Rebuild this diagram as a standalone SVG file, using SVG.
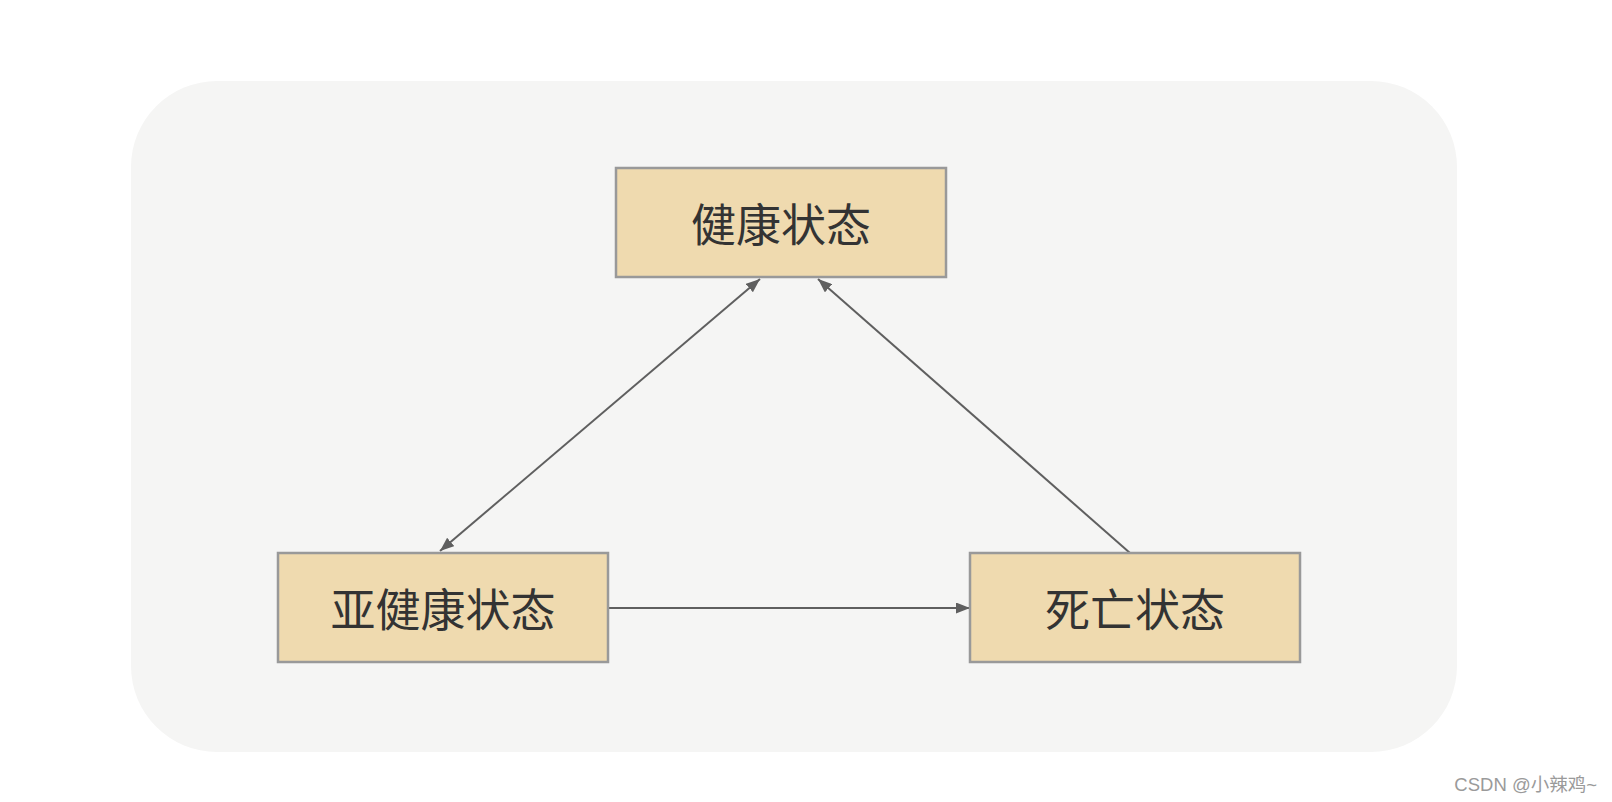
<svg xmlns="http://www.w3.org/2000/svg" width="1612" height="802" viewBox="0 0 1612 802">
<style>
.node rect{fill:#efdaaf;stroke:#999999;stroke-width:2.5}
.node text{font-family:"Noto Sans CJK SC","Microsoft YaHei",sans-serif;font-size:45px;font-weight:400;fill:#333333;text-anchor:middle;dominant-baseline:central}
.conn line{stroke:#5f5f5f;stroke-width:2}
.wm{font-family:"Liberation Sans","Noto Sans CJK SC",sans-serif;font-size:18.5px;fill:#9a9a9a;text-anchor:end}
</style>
<defs>
<marker id="ah" viewBox="0 0 14 11" refX="14" refY="5.5" markerWidth="14" markerHeight="11" markerUnits="userSpaceOnUse" orient="auto-start-reverse">
<path d="M0,0 L14,5.5 L0,11 Z" fill="#5f5f5f"/>
</marker>
</defs>
<rect width="1612" height="802" fill="#ffffff"/>
<rect x="131" y="81" width="1326" height="671" rx="86" ry="86" fill="#f5f5f4"/>
<g class="conn">
<line x1="760" y1="279" x2="440" y2="551" marker-start="url(#ah)" marker-end="url(#ah)"/>
<line x1="1130" y1="553" x2="818" y2="279" marker-end="url(#ah)"/>
<line x1="608" y1="608" x2="970" y2="608" marker-end="url(#ah)"/>
</g>
<g id="node-healthy" class="node">
<rect x="616" y="168" width="330" height="109"/>
<text x="781" y="222">健康状态</text>
</g>
<g id="node-subhealthy" class="node">
<rect x="278" y="553" width="330" height="109"/>
<text x="443" y="607">亚健康状态</text>
</g>
<g id="node-dead" class="node">
<rect x="970" y="553" width="330" height="109"/>
<text x="1135" y="607">死亡状态</text>
</g>
<text class="wm" x="1597" y="791">CSDN @小辣鸡~</text>
</svg>
